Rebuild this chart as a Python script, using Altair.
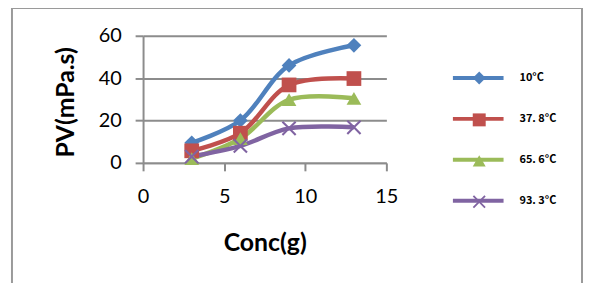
import altair as alt
import pandas as pd

conc = [3, 6, 9, 13]
series_names = ["10°C", "37. 8°C", "65. 6°C", "93. 3°C"]
pv_10 = [9.5, 20.0, 46.0, 55.5]
pv_378 = [5.7, 14.0, 36.8, 39.8]
pv_656 = [2.0, 11.5, 29.8, 30.5]
pv_933 = [3.0, 8.0, 16.3, 16.8]
colors = ["#4F81BD", "#C0504D", "#9BBB59", "#8064A2"]
x_path = ("M-1,-0.8L-0.8,-1L0,-0.2L0.8,-1L1,-0.8L0.2,0L1,0.8L0.8,1L0,0.2"
          "L-0.8,1L-1,0.8L-0.2,0Z")
shapes = ["diamond", "square", "triangle-up", x_path]

rows = []
for name, vals in zip(series_names, [pv_10, pv_378, pv_656, pv_933]):
    for c, v in zip(conc, vals):
        rows.append({"conc": c, "pv": v, "series": name})
df = pd.DataFrame(rows)

FONT = "Lato"
x_enc = alt.X("conc:Q", scale=alt.Scale(domain=[0, 15], nice=False),
              axis=alt.Axis(values=[0, 5, 10, 15], grid=False, title=None,
                            domainColor="#8c8c8c", domainWidth=2,
                            tickColor="#8c8c8c", tickWidth=2, tickSize=8,
                            labelFontSize=20, labelFont=FONT, labelColor="#000",
                            labelPadding=16, labelFlush=False))
y_enc = alt.Y("pv:Q", scale=alt.Scale(domain=[0, 60], nice=False),
              axis=alt.Axis(values=[0, 20, 40, 60], grid=True, title=None,
                            gridColor="#8c8c8c", gridWidth=2,
                            domainColor="#8c8c8c", domainWidth=2,
                            tickColor="#8c8c8c", tickWidth=2, tickSize=8,
                            labelFontSize=20, labelFont=FONT, labelColor="#000",
                            labelPadding=14, labelFlush=False))

lines = alt.Chart(df).mark_line(interpolate="catmull-rom", strokeWidth=4.5).encode(
    x=x_enc, y=y_enc,
    stroke=alt.Stroke("series:N", sort=series_names,
                      scale=alt.Scale(domain=series_names, range=colors),
                      legend=alt.Legend(orient="none", legendX=310, legendY=15,
                                        title=None, symbolType="stroke",
                                        symbolSize=2601, symbolStrokeWidth=4,
                                        labelFontSize=11, labelFont="Noto Sans CJK SC",
                                        labelFontWeight="bold", labelColor="#000",
                                        labelOffset=14, rowPadding=5.2, padding=0)),
)

leg_shape = dict(orient="none", legendX=331, legendY=35, title=None,
                 symbolSize=170, labelExpr="''", rowPadding=21.2, padding=0)
points = alt.Chart(df).mark_point(filled=True, size=220, opacity=1).encode(
    x="conc:Q", y="pv:Q",
    fill=alt.Fill("series:N", sort=series_names,
                  scale=alt.Scale(domain=series_names, range=colors),
                  legend=alt.Legend(**leg_shape)),
    shape=alt.Shape("series:N", sort=series_names,
                    scale=alt.Scale(domain=series_names, range=shapes),
                    legend=alt.Legend(**leg_shape)),
)

one = alt.Data(values=[{"a": 1}])
frame = alt.Chart(one).mark_rect(fillOpacity=0, stroke="#9a9a9a", strokeWidth=2).encode(
    x=alt.value(-132), x2=alt.value(442), y=alt.value(-28), y2=alt.value(260))

xtitle = alt.Chart(one).mark_text(text="Conc(g)", font=FONT, fontSize=25,
                                  fontWeight="bold", color="#000",
                                  baseline="middle", align="center").encode(
    x=alt.value(123), y=alt.value(209))
ytitle = alt.Chart(one).mark_text(text="PV(mPa.s)", font=FONT, fontSize=25,
                                  fontWeight="bold", color="#000", angle=270,
                                  baseline="middle", align="center").encode(
    x=alt.value(-78), y=alt.value(67))

chart = alt.layer(frame, lines, points, xtitle, ytitle).resolve_legend(
    stroke="independent", fill="independent", shape="independent"
).properties(
    width=245, height=128,
    autosize=alt.AutoSizeParams(type="none"),
    padding={"left": 136, "top": 27, "right": 198, "bottom": 120},
).configure_view(stroke=None)

chart.save("out.html", embed_options={"renderer": "svg", "actions": False})
